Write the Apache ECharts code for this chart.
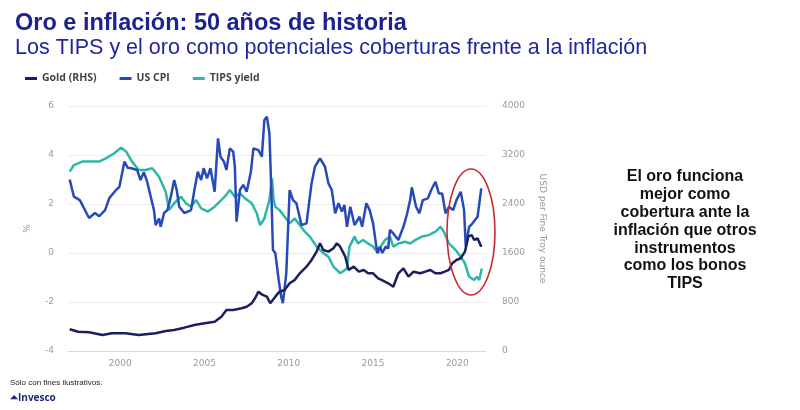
<!DOCTYPE html>
<html>
<head>
<meta charset="utf-8">
<script src="https://cdn.jsdelivr.net/npm/echarts@6/dist/echarts.min.js"></script>
<style>
  html, body { margin: 0; padding: 0; background: #fff; }
  #chart { width: 800px; height: 410px; }
</style>
</head>
<body>
<div id="chart"></div>
<script>
// US CPI, % (left axis)
const cpiYears = [1997.0, 1997.25, 1997.6, 1998.15, 1998.5, 1998.75, 1999.1, 1999.35, 1999.75, 1999.95,
  2000.25, 2000.45, 2000.6, 2001.0, 2001.2, 2001.4, 2001.6, 2002.0, 2002.1, 2002.3, 2002.4, 2002.6, 2002.8,
  2003.0, 2003.2, 2003.35, 2003.5, 2003.8, 2004.2, 2004.4, 2004.6, 2004.8, 2004.95, 2005.15, 2005.35, 2005.6,
  2005.8, 2005.95, 2006.15, 2006.3, 2006.5, 2006.7, 2006.8, 2006.9, 2007.1, 2007.3, 2007.5, 2007.75, 2007.9,
  2008.2, 2008.4, 2008.55, 2008.7, 2008.85, 2008.95, 2009.06, 2009.2, 2009.4, 2009.55, 2009.65, 2009.85,
  2010.05, 2010.25, 2010.45, 2010.75, 2011.05, 2011.35, 2011.55, 2011.85, 2012.15, 2012.35, 2012.55, 2012.75,
  2012.95, 2013.15, 2013.3, 2013.45, 2013.65, 2013.9, 2014.2, 2014.35, 2014.6, 2014.8, 2015.0, 2015.25, 2015.4,
  2015.55, 2015.75, 2015.9, 2016.0, 2016.2, 2016.5, 2016.8, 2017.0, 2017.2, 2017.3, 2017.55, 2017.75, 2017.95,
  2018.25, 2018.45, 2018.7, 2018.9, 2019.1, 2019.3, 2019.5, 2019.75, 2019.95, 2020.2, 2020.4, 2020.5, 2020.7,
  2020.9, 2021.2, 2021.42];
const cpiValues = [3.0, 2.3, 2.16, 1.43, 1.63, 1.5, 1.75, 2.24, 2.57, 2.7,
  3.73, 3.47, 3.47, 3.39, 2.98, 3.3, 2.9, 1.75, 1.14, 1.41, 1.07, 1.63, 1.75,
  2.3, 2.98, 2.57, 1.89, 1.63, 1.75, 2.57, 3.32, 2.98, 3.46, 3.05, 3.46, 2.5,
  4.68, 3.93, 3.73, 3.39, 4.27, 4.14, 3.52, 1.28, 2.57, 2.78, 2.5, 3.32, 4.27,
  4.2, 3.93, 5.43, 5.56, 4.89, 2.84, 0.12, 0.0, -1.1, -1.78, -2.05, -0.83,
  2.57, 2.16, 2.03, 1.14, 1.21, 2.84, 3.52, 3.86, 3.52, 2.84, 2.57, 1.62,
  2.03, 1.69, 1.96, 1.07, 1.89, 1.14, 1.48, 1.07, 2.03, 1.75, 1.21, 0.0, 0.26,
  0.0, 0.26, 0.19, 0.94, 0.8, 0.53, 1.07, 1.55, 2.16, 2.68, 1.89, 1.62, 2.16,
  2.23, 2.57, 2.91, 2.43, 2.43, 1.62, 1.89, 1.75, 2.16, 2.5, 1.75, 0.26, 1.07,
  1.21, 1.48, 2.64];

// TIPS yield, % (left axis)
const tipsYears = [1997.0, 1997.25, 1997.75, 1998.3, 1998.75, 1999.15, 1999.65, 2000.05, 2000.35, 2000.7,
  2001.1, 2001.5, 2001.9, 2002.3, 2002.7, 2002.9, 2003.2, 2003.6, 2003.9, 2004.2, 2004.5, 2004.8, 2005.2,
  2005.6, 2005.9, 2006.2, 2006.5, 2006.8, 2007.1, 2007.4, 2007.8, 2008.1, 2008.3, 2008.55, 2008.85, 2009.0,
  2009.1, 2009.2, 2009.45, 2009.75, 2010.05, 2010.35, 2010.65, 2010.95, 2011.25, 2011.65, 2012.05, 2012.35,
  2012.65, 2013.05, 2013.45, 2013.6, 2013.9, 2014.1, 2014.4, 2014.7, 2015.0, 2015.3, 2015.4, 2015.7, 2016.0,
  2016.2, 2016.5, 2016.9, 2017.2, 2017.5, 2017.9, 2018.3, 2018.7, 2019.0, 2019.2, 2019.5, 2019.9, 2020.2,
  2020.45, 2020.7, 2021.0, 2021.15, 2021.3, 2021.45];
const tipsValues = [3.32, 3.59, 3.73, 3.73, 3.73, 3.86, 4.07, 4.3, 4.14, 3.73,
  3.39, 3.39, 3.46, 3.11, 2.5, 1.75, 2.03, 2.3, 2.03, 1.89, 2.16, 1.82, 1.69,
  1.89, 2.1, 2.3, 2.57, 2.3, 2.43, 2.23, 2.03, 1.62, 1.14, 1.41, 2.16, 3.05,
  2.16, 1.89, 1.75, 1.48, 1.21, 1.41, 1.14, 0.87, 0.67, 0.26, 0.0, -0.15,
  -0.56, -0.83, -0.63, 0.26, 0.67, 0.39, 0.53, 0.39, 0.26, 0.0, 0.19, 0.53, 0.67,
  0.26, 0.39, 0.46, 0.39, 0.53, 0.67, 0.73, 0.87, 1.07, 0.87, 0.39, 0.12, -0.15,
  -0.42, -0.97, -1.1, -0.97, -1.1, -0.63];

// Gold, USD per fine troy ounce (right axis)
const goldYears = [1997.0, 1997.5, 1998.15, 1998.95, 1999.5, 2000.3, 2001.1, 2002.1, 2002.7, 2003.2, 2003.8,
  2004.4, 2005.0, 2005.6, 2006.0, 2006.3, 2006.7, 2007.2, 2007.5, 2007.8, 2008.0, 2008.2, 2008.45, 2008.7,
  2008.9, 2009.2, 2009.45, 2009.75, 2010.05, 2010.35, 2010.65, 2011.05, 2011.35, 2011.65, 2011.85, 2012.05,
  2012.35, 2012.65, 2012.85, 2013.05, 2013.35, 2013.55, 2013.85, 2014.15, 2014.45, 2014.7, 2015.0, 2015.3,
  2015.5, 2015.9, 2016.2, 2016.5, 2016.8, 2017.1, 2017.4, 2017.8, 2018.1, 2018.4, 2018.7, 2019.0, 2019.25,
  2019.5, 2019.7, 2019.95, 2020.2, 2020.45, 2020.65, 2020.85, 2021.0, 2021.2, 2021.42];
const goldValues = [354, 315, 305, 261, 289, 289, 261, 289, 327, 343, 381,
  425, 452, 479, 560, 670, 670, 697, 723, 779, 861, 969, 915, 887,
  779, 887, 969, 996, 1105, 1160, 1269, 1377, 1486, 1622, 1759, 1649,
  1622, 1677, 1759, 1703, 1540, 1323, 1377, 1295, 1323, 1269, 1269, 1187,
  1160, 1105, 1050, 1269, 1350, 1214, 1295, 1269, 1295, 1323, 1269, 1269, 1295,
  1323, 1432, 1486, 1514, 1622, 1866, 1894, 1813, 1840, 1703];

const xTicks = [2000, 2005, 2010, 2015, 2020];
const noteLines = ['El oro funciona', 'mejor como', 'cobertura ante la', 'inflación que otros',
  'instrumentos', 'como los bonos', 'TIPS'];

const zip = (xs, ys) => xs.map((x, i) => [x, ys[i]]);

const chart = echarts.init(document.getElementById('chart'));
const axisGray = '#9a9a9a';

chart.setOption({
  animation: false,
  backgroundColor: '#fff',
  title: {
    left: 10,
    top: 7,
    text: 'Oro e inflación: 50 años de historia',
    subtext: 'Los TIPS y el oro como potenciales coberturas frente a la inflación',
    itemGap: 1,
    textStyle: { fontFamily: 'Liberation Sans', fontSize: 23.5, fontWeight: 'bold', color: '#1c2390' },
    subtextStyle: { fontFamily: 'Liberation Sans', fontSize: 21.5, color: '#2326a0' }
  },
  legend: {
    left: 20,
    top: 68,
    icon: 'rect',
    itemWidth: 12,
    itemHeight: 3,
    itemGap: 23,
    textStyle: { fontFamily: 'Open Sans', fontSize: 10.5, fontWeight: 'bold', color: '#444' },
    data: ['Gold (RHS)', 'US CPI', 'TIPS yield']
  },
  grid: { left: 68, right: 314, top: 106, bottom: 59 },
  xAxis: {
    type: 'value',
    min: 1996.9,
    max: 2021.7,
    splitLine: { show: false },
    axisLine: { onZero: false, lineStyle: { color: '#d8d8d8' } },
    axisTick: { show: false },
    axisLabel: {
      color: axisGray, fontFamily: 'DejaVu Sans', fontSize: 9, margin: 8,
      customValues: xTicks,
      formatter: v => String(v)
    }
  },
  yAxis: [
    {
      type: 'value',
      min: -4,
      max: 6,
      interval: 2,
      name: '%',
      nameLocation: 'middle',
      nameGap: 36,
      nameRotate: 90,
      nameTextStyle: { color: axisGray, fontSize: 9, fontFamily: 'DejaVu Sans' },
      axisLine: { show: false },
      axisTick: { show: false },
      axisLabel: { color: axisGray, fontFamily: 'DejaVu Sans', fontSize: 9, margin: 14 },
      splitLine: { lineStyle: { color: '#ececec' } }
    },
    {
      type: 'value',
      min: 0,
      max: 4000,
      interval: 800,
      position: 'right',
      name: 'USD per Fine Troy ounce',
      nameLocation: 'middle',
      nameGap: 52,
      nameRotate: -90,
      nameTextStyle: { color: axisGray, fontSize: 9, fontFamily: 'DejaVu Sans' },
      axisLine: { show: false },
      axisTick: { show: false },
      axisLabel: {
        color: axisGray, fontFamily: 'DejaVu Sans', fontSize: 9, margin: 16,
        formatter: v => String(v)
      },
      splitLine: { show: false }
    }
  ],
  series: [
    {
      name: 'Gold (RHS)', type: 'line', yAxisIndex: 1, showSymbol: false,
      color: '#1b1f5e', lineStyle: { width: 2.5 }, z: 4,
      data: zip(goldYears, goldValues)
    },
    {
      name: 'US CPI', type: 'line', yAxisIndex: 0, showSymbol: false,
      color: '#2849b8', lineStyle: { width: 2.5 }, z: 3,
      data: zip(cpiYears, cpiValues)
    },
    {
      name: 'TIPS yield', type: 'line', yAxisIndex: 0, showSymbol: false,
      color: '#2cb8a6', lineStyle: { width: 2.5 }, z: 2,
      data: zip(tipsYears, tipsValues)
    }
  ],
  graphic: [
    {
      type: 'ellipse', z: 10,
      shape: { cx: 471, cy: 232, rx: 24, ry: 63 },
      style: { fill: 'none', stroke: '#c62a2f', lineWidth: 1.6 }
    },
    {
      type: 'text', x: 685, y: 168, z: 10,
      style: {
        text: noteLines.join('\n'),
        align: 'center',
        font: 'bold 16px "Liberation Sans"', lineHeight: 17.8, fill: '#111'
      }
    },
    {
      type: 'text', left: 10, top: 379,
      style: { text: 'Sólo con fines ilustrativos.', font: '8px "Liberation Sans"', fill: '#222' }
    },
    {
      type: 'text', left: 10, top: 393,
      style: { text: '⏶Invesco', font: 'bold 10px "Open Sans"', fill: '#1c2a80' }
    }
  ]
});
</script>
</body>
</html>
